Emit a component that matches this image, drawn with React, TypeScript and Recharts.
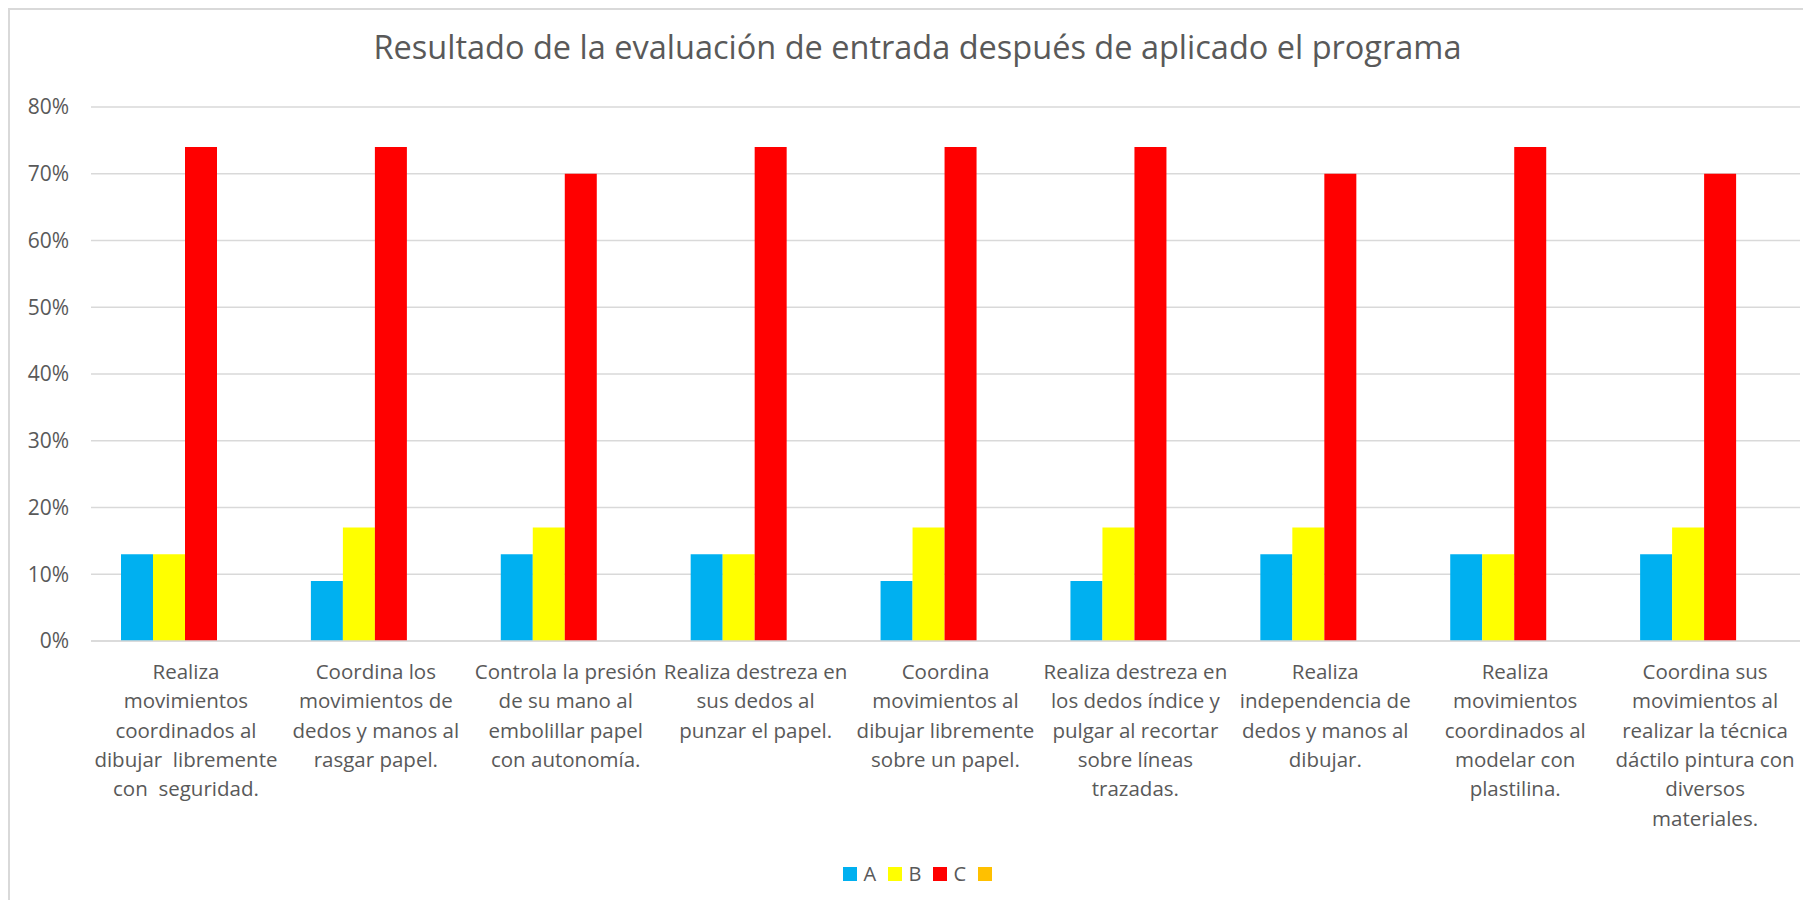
import React from 'react';
import {
  BarChart,
  Bar,
  XAxis,
  YAxis,
  CartesianGrid,
} from 'recharts';

const categories = [
  'Realiza\nmovimientos\ncoordinados al\ndibujar  libremente\ncon  seguridad.',
  'Coordina los\nmovimientos de\ndedos y manos al\nrasgar papel.',
  'Controla la presión\nde su mano al\nembolillar papel\ncon autonomía.',
  'Realiza destreza en\nsus dedos al\npunzar el papel.',
  'Coordina\nmovimientos al\ndibujar libremente\nsobre un papel.',
  'Realiza destreza en\nlos dedos índice y\npulgar al recortar\nsobre líneas\ntrazadas.',
  'Realiza\nindependencia de\ndedos y manos al\ndibujar.',
  'Realiza\nmovimientos\ncoordinados al\nmodelar con\nplastilina.',
  'Coordina sus\nmovimientos al\nrealizar la técnica\ndáctilo pintura con\ndiversos\nmateriales.',
];

const seriesA = [13, 9, 13, 13, 9, 9, 13, 13, 13];
const seriesB = [13, 17, 17, 13, 17, 17, 17, 13, 17];
const seriesC = [74, 74, 70, 74, 74, 74, 70, 74, 70];
// fourth series is empty in the original, but still reserves its slot
const seriesD: (number | null)[] = [null, null, null, null, null, null, null, null, null];

const yTicks = [0, 10, 20, 30, 40, 50, 60, 70, 80];

const series = [
  { key: 'A', name: 'A', color: '#00B0F0' },
  { key: 'B', name: 'B', color: '#FFFF00' },
  { key: 'C', name: 'C', color: '#FF0000' },
  { key: 'D', name: '', color: '#FFC000' },
];

const data = categories.map((name, i) => ({
  name,
  A: seriesA[i],
  B: seriesB[i],
  C: seriesC[i],
  D: seriesD[i],
}));

const FONT = '"Open Sans", sans-serif';
const TEXT_COLOR = '#595959';

const CategoryTick = (props: any) => {
  const { x, y, payload } = props;
  const lines = String(payload.value).split('\n');
  return (
    <text
      x={x}
      y={y}
      textAnchor="middle"
      fill={TEXT_COLOR}
      fontSize={20.5}
      fontFamily={FONT}
      style={{ whiteSpace: 'pre' }}
    >
      {lines.map((line, i) => (
        <tspan key={i} x={x} dy={i === 0 ? 38 : 29.3}>
          {line}
        </tspan>
      ))}
    </text>
  );
};

const App: React.FC = () => {
  return (
    <div
      style={{
        position: 'relative',
        width: 1815,
        height: 890,
        borderLeft: '2px solid #d9d9d9',
        borderTop: '2px solid #d9d9d9',
        background: '#fff',
        fontFamily: FONT,
      }}
    >
      <div
        style={{
          position: 'absolute',
          top: 14,
          left: 0,
          width: 1815,
          textAlign: 'center',
          fontSize: 32.5,
          color: TEXT_COLOR,
        }}
      >
        Resultado de la evaluación de entrada después de aplicado el programa
      </div>
      <BarChart
        width={1815}
        height={890}
        data={data}
        margin={{ top: 97, right: 25, bottom: 39, left: 0 }}
        barCategoryGap="15.8%"
        barGap={0}
      >
        <CartesianGrid vertical={false} stroke="#d9d9d9" strokeWidth={1.5} />
        <XAxis
          dataKey="name"
          interval={0}
          height={220}
          tickLine={false}
          tickSize={0}
          tickMargin={0}
          axisLine={{ stroke: '#d9d9d9', strokeWidth: 1.5 }}
          tick={<CategoryTick />}
        />
        <YAxis
          width={81}
          domain={[0, 80]}
          ticks={yTicks}
          tickFormatter={(v: number) => `${v}%`}
          axisLine={false}
          tickLine={false}
          tickSize={0}
          tickMargin={22}
          tick={{ fill: TEXT_COLOR, fontSize: 21, fontFamily: FONT }}
        />
        {series.map((s) => (
          <Bar
            key={s.key}
            dataKey={s.key}
            name={s.name}
            fill={s.color}
            isAnimationActive={false}
          />
        ))}
      </BarChart>
      <div
        style={{
          position: 'absolute',
          top: 850,
          left: 3,
          width: 1815,
          display: 'flex',
          justifyContent: 'center',
          gap: 10,
          fontSize: 20,
          color: TEXT_COLOR,
        }}
      >
        {series.map((s) => (
          <div key={s.key} style={{ display: 'flex', alignItems: 'center', gap: 7 }}>
            <span style={{ display: 'inline-block', width: 14, height: 14, background: s.color }} />
            <span style={{ width: s.name ? 14 : 0 }}>{s.name}</span>
          </div>
        ))}
      </div>
    </div>
  );
};

export default App;
